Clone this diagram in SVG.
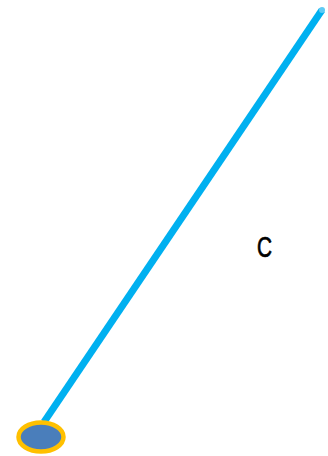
<svg xmlns="http://www.w3.org/2000/svg" width="328" height="456" viewBox="0 0 328 456">
<style>
.conn{stroke:#00B0F0;stroke-width:7;fill:none;stroke-linecap:butt}
.lbl{font-family:"Liberation Sans",Arial,sans-serif;font-size:29px;fill:#000;stroke:#000;stroke-width:0.7}
</style>
<rect width="328" height="456" fill="#fff"/>
<g id="connectors">
<line class="conn" x1="44" y1="422" x2="322" y2="10"/>
<circle cx="322" cy="10" r="3" fill="#5FCBF5"/>
</g>
<g id="node-end">
<ellipse cx="41" cy="437" rx="22.5" ry="14.5" fill="#4A7EBB" stroke="#FFC000" stroke-width="4.5"/>
</g>
<g id="label-c">
<text class="lbl" transform="translate(257,257) scale(0.72,1)" x="0" y="0">C</text>
</g>
</svg>
